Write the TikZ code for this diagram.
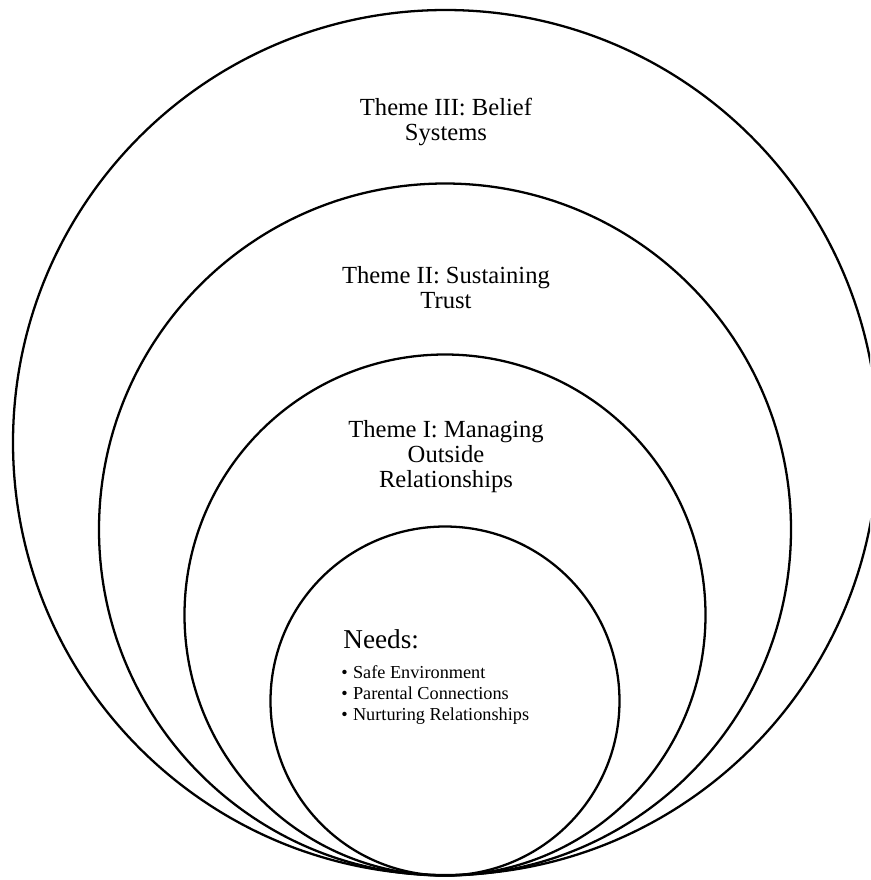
\documentclass[tikz,border=0pt]{standalone}
\usepackage{fontspec}
\setmainfont{Liberation Serif}
\begin{document}
\begin{tikzpicture}[x=0.02cm,y=-0.02cm,
  ring/.style={line width=1.3pt},
  theme/.style={align=center,font=\fontsize{14}{14.2}\selectfont},
  need/.style={anchor=base west,inner sep=0pt,font=\fontsize{10.4}{12}\selectfont}]
\useasboundingbox (0,0) rectangle (870,880);
\clip (0,0) rectangle (870,880);
\draw[ring] (445.5,442.5) circle [radius=432.5];
\draw[ring] (445,529.5) circle [radius=346];
\draw[ring] (445,615) circle [radius=260.5];
\draw[ring] (445,701) circle [radius=174.5];
\node[theme] (beliefs) at (446,122) {Theme III: Belief\\Systems};
\node[theme] (trust) at (446,288) {Theme II: Sustaining\\Trust};
\node[theme] (outside) at (446,457) {Theme I: Managing\\Outside\\Relationships};
\node[anchor=base west,inner sep=0pt,font=\fontsize{15.5}{16}\selectfont] (needs) at (343,648) {Needs:};
\node[need] (safe) at (341,678) {\textbullet\hspace{3pt}Safe Environment};
\node[need] (parental) at (341,699) {\textbullet\hspace{3pt}Parental Connections};
\node[need] (nurturing) at (341,720) {\textbullet\hspace{3pt}Nurturing Relationships};
\end{tikzpicture}
\end{document}
